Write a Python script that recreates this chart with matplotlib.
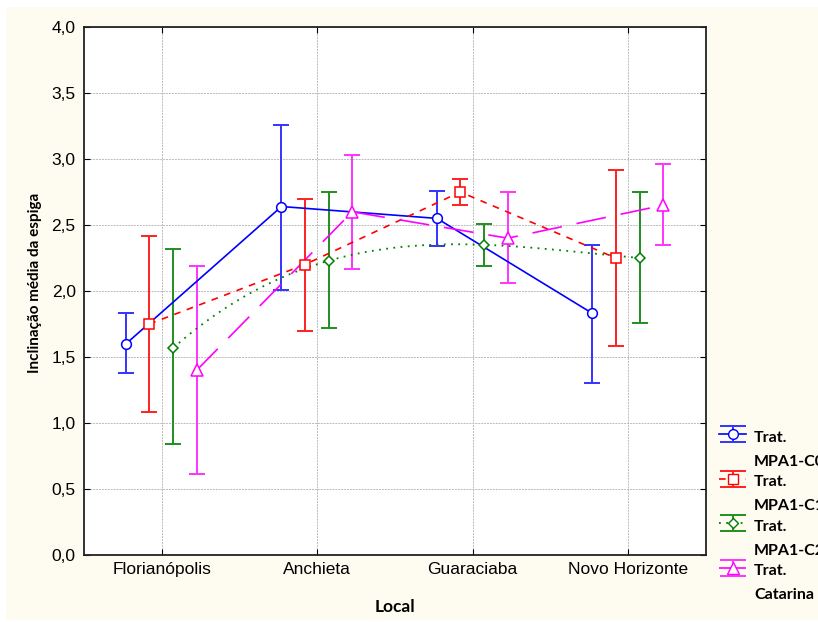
import numpy as np
import matplotlib
matplotlib.use("Agg")
import matplotlib.pyplot as plt
from matplotlib.patches import Rectangle

locais = ["Florianópolis", "Anchieta", "Guaraciaba", "Novo Horizonte"]
label_line1 = ["Trat.", "Trat.", "Trat.", "Trat."]
label_line2 = ["MPA1-C0", "MPA1-C1", "MPA1-C2", "Catarina"]

c0_mean = [1.60, 2.64, 2.55, 1.83]
c0_low = [1.38, 2.01, 2.34, 1.30]
c0_high = [1.83, 3.26, 2.76, 2.35]

c1_mean = [1.75, 2.20, 2.75, 2.25]
c1_low = [1.08, 1.70, 2.65, 1.58]
c1_high = [2.42, 2.70, 2.85, 2.92]

c2_mean = [1.57, 2.23, 2.35, 2.25]
c2_low = [0.84, 1.72, 2.19, 1.76]
c2_high = [2.32, 2.75, 2.51, 2.75]

cat_mean = [1.40, 2.60, 2.40, 2.65]
cat_low = [0.61, 2.17, 2.06, 2.35]
cat_high = [2.19, 3.03, 2.75, 2.96]

yticks = [0.0, 0.5, 1.0, 1.5, 2.0, 2.5, 3.0, 3.5, 4.0]

plt.rcParams['font.family'] = ['Liberation Sans', 'DejaVu Sans']

fig = plt.figure(figsize=(8.18, 6.22), dpi=100)
fig.patch.set_facecolor('white')
fig.patches.append(Rectangle((6/818, 2/622), 1 - 6/818, 613/622, transform=fig.transFigure,
                             facecolor='#FEFBF0', edgecolor='none', zorder=-10))

ax = fig.add_axes([84/818, 1 - 555/622, (706 - 84)/818, (555 - 27)/622])
ax.set_facecolor('white')

x = np.arange(len(locais))
offsets = [-0.23, -0.08, 0.075, 0.225]
means = [c0_mean, c1_mean, c2_mean, cat_mean]
lows = [c0_low, c1_low, c2_low, cat_low]
highs = [c0_high, c1_high, c2_high, cat_high]
colors = ['#0000FF', '#FF0000', '#008000', '#FF00FF']
errcolors = ['#3333FF', '#FF2020', '#208F20', '#FF33FF']
markers = ['o', 's', 'D', '^']
msizes = [7, 7, 5.5, 8]
linestyles = ['-', (0, (4, 4)), (0, (1, 3)), (0, (18, 9))]
lws = [1.2, 1.2, 1.3, 1.2]

handles = []
for i in range(4):
    xs = x + offsets[i]
    m = np.array(means[i])
    lo = m - np.array(lows[i])
    hi = np.array(highs[i]) - m
    ax.errorbar(xs, m, yerr=[lo, hi], fmt='none', ecolor=errcolors[i],
                elinewidth=1.4, capsize=5.5, capthick=1.4, zorder=3)
    if i == 2:
        coef = np.polyfit(xs, m, 3)
        xx = np.linspace(xs[0], xs[-1], 200)
        ax.plot(xx, np.polyval(coef, xx), color=colors[i], linestyle=linestyles[i], lw=lws[i], zorder=4)
    else:
        ax.plot(xs, m, color=colors[i], linestyle=linestyles[i], lw=lws[i], zorder=4)
    ax.plot(xs, m, linestyle='none', marker=markers[i], markersize=msizes[i],
            markerfacecolor='white', markeredgecolor=colors[i], markeredgewidth=1.1, zorder=5)
    h = ax.errorbar([np.nan], [np.nan], yerr=[[0.1]], color=colors[i], ecolor=errcolors[i],
                    linestyle=linestyles[i], lw=lws[i], marker=markers[i], markersize=msizes[i],
                    markerfacecolor='white', markeredgecolor=colors[i], capsize=9.5,
                    elinewidth=1.4, capthick=1.4)
    handles.append(h)

ax.set_xlim(-0.5, 3.5)
ax.set_ylim(0, 4.0)
ax.set_xticks(x)
ax.set_xticklabels(locais, fontsize=12.5)
ax.set_yticks(yticks)
ax.set_yticklabels([f"{v:.1f}".replace('.', ',') for v in yticks], fontsize=12.5)
ax.grid(True, color='#BBBBBB', linestyle=(0, (2, 1)), linewidth=0.7)
ax.set_axisbelow(True)
for s in ax.spines.values():
    s.set_color('#222222')
    s.set_linewidth(1.3)
ax.tick_params(axis='both', direction='in', length=4, top=True, right=True, pad=6)
ax.tick_params(axis='x', length=4, pad=5)

ax.set_xlabel("Local", fontsize=12.5, fontfamily='Lato', fontweight='bold', labelpad=16)
ax.set_ylabel("Inclinação média da espiga", fontsize=11, fontfamily='Lato', fontweight='bold')
ax.yaxis.set_label_coords(-0.067, 0.515)

legfont = {'family': 'Lato', 'weight': 'bold', 'size': 11.5}
leg = fig.legend(handles, label_line1, loc='upper left', bbox_to_anchor=(719/818, 1 - 427/622),
                 frameon=False, prop=legfont, borderaxespad=0, borderpad=0,
                 handlelength=1.72, handletextpad=0.48, labelspacing=1.6, handleheight=1.45)

fig.canvas.draw()
r = fig.canvas.get_renderer()
for t, s2 in zip(leg.get_texts(), label_line2):
    bb = t.get_window_extent(r)
    fig.text(bb.x0 / fig.bbox.width, (bb.y0 - 24) / fig.bbox.height, s2,
             fontfamily='Lato', fontweight='bold', fontsize=11.5, va='bottom', ha='left')

fig.savefig("out.png", dpi=100, facecolor=fig.get_facecolor())
